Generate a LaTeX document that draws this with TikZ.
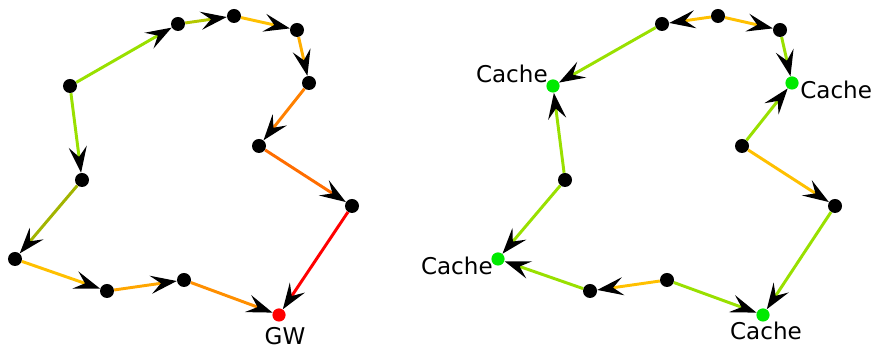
\documentclass[tikz,border=0pt]{standalone}
\usepackage{fontspec}
\setmainfont{DejaVu Sans}
\usetikzlibrary{arrows.meta}
\definecolor{leaf}{HTML}{99E000}
\definecolor{olivine}{HTML}{B4C800}
\definecolor{amber}{HTML}{FFC000}
\definecolor{tangerine}{HTML}{FFA600}
\definecolor{ember}{HTML}{FF8000}
\definecolor{hot}{HTML}{FF0000}
\definecolor{cachegreen}{HTML}{00EA00}

\tikzset{
  dot/.style={circle,fill=black,inner sep=0pt,minimum size=0.35cm},
  cache/.style={dot,fill=cachegreen,minimum size=0.33cm},
  gw/.style={dot,fill=hot,minimum size=0.33cm},
  hop/.style={line width=2.1pt,-{Stealth[length=0.65cm,width=0.45cm,inset=0.25cm,color=black]}},
  lbl/.style={font=\fontsize{16.4}{19}\selectfont,inner sep=0pt}
}

\begin{document}
\begin{tikzpicture}
  \useasboundingbox (0,0) rectangle (21.9,8.725);

  % Without caches: every path runs to the gateway
  \node[dot] (A) at (1.75,6.575) {};
  \node[dot] (B) at (4.45,8.125) {};
  \node[dot] (C) at (5.85,8.325) {};
  \node[dot] (D) at (7.425,7.975) {};
  \node[dot] (E) at (7.725,6.65) {};
  \node[dot] (F) at (6.475,5.075) {};
  \node[dot] (G) at (8.8,3.575) {};
  \node[gw]  (GW) at (6.975,0.85) {};
  \node[dot] (H) at (2.05,4.225) {};
  \node[dot] (I) at (0.375,2.25) {};
  \node[dot] (J) at (2.675,1.45) {};
  \node[dot] (K) at (4.6,1.725) {};
  \node[lbl,anchor=base] (gwlbl) at (7.125,0.1) {GW};

  \draw[hop,leaf]      (A) -- (B);
  \draw[hop,olivine]   (B) -- (C);
  \draw[hop,amber]     (C) -- (D);
  \draw[hop,tangerine!70!amber] (D) -- (E);
  \draw[hop,ember]     (E) -- (F);
  \draw[hop,ember!85!hot] (F) -- (G);
  \draw[hop,hot]       (G) -- (GW);
  \draw[hop,leaf]      (A) -- (H);
  \draw[hop,olivine!90!black] (H) -- (I);
  \draw[hop,amber]     (I) -- (J);
  \draw[hop,tangerine] (J) -- (K);
  \draw[hop,ember!60!tangerine] (K) -- (GW);

  % With caches: each path stops at the nearest cache
  \node[dot]   (a) at (16.55,8.125) {};
  \node[dot]   (b) at (17.95,8.325) {};
  \node[dot]   (c) at (19.5,7.975) {};
  \node[cache] (c1) at (19.8,6.65) {};
  \node[dot]   (d) at (18.55,5.075) {};
  \node[dot]   (e) at (20.875,3.575) {};
  \node[cache] (c2) at (19.075,0.85) {};
  \node[dot]   (f) at (16.675,1.725) {};
  \node[dot]   (g) at (14.75,1.45) {};
  \node[cache] (c3) at (12.45,2.25) {};
  \node[dot]   (h) at (14.125,4.225) {};
  \node[cache] (c4) at (13.825,6.575) {};
  \node[lbl,anchor=base east] (c4lbl) at (13.7,6.65) {Cache};
  \node[lbl,anchor=base west] (c1lbl) at (20.0,6.25) {Cache};
  \node[lbl,anchor=base]      (c2lbl) at (19.15,0.225) {Cache};
  \node[lbl,anchor=base east] (c3lbl) at (12.325,1.85) {Cache};

  \draw[hop,amber] (b) -- (a);
  \draw[hop,leaf]  (a) -- (c4);
  \draw[hop,amber] (b) -- (c);
  \draw[hop,leaf]  (c) -- (c1);
  \draw[hop,leaf]  (d) -- (c1);
  \draw[hop,amber] (d) -- (e);
  \draw[hop,leaf]  (e) -- (c2);
  \draw[hop,leaf]  (f) -- (c2);
  \draw[hop,amber] (f) -- (g);
  \draw[hop,leaf]  (g) -- (c3);
  \draw[hop,leaf]  (h) -- (c3);
  \draw[hop,leaf]  (h) -- (c4);
\end{tikzpicture}
\end{document}
